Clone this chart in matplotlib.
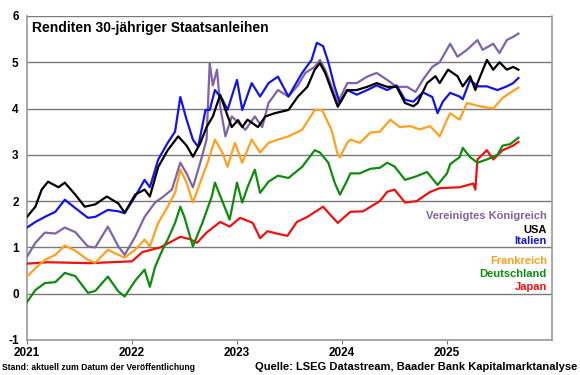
import matplotlib
matplotlib.use("Agg")
import matplotlib.pyplot as plt

plt.rcParams['font.family'] = ['Liberation Sans', 'DejaVu Sans']

# ---- data (decimal years, yield in %) ----
uk_x = [2021.00, 2021.08, 2021.17, 2021.27, 2021.36, 2021.46, 2021.58, 2021.65, 2021.77, 2021.87, 2021.93,
        2022.03, 2022.12, 2022.22, 2022.30, 2022.38, 2022.46, 2022.52, 2022.58, 2022.65, 2022.71, 2022.74,
        2022.77, 2022.81, 2022.84, 2022.89, 2022.95, 2023.01, 2023.08, 2023.17, 2023.24, 2023.30, 2023.39,
        2023.49, 2023.58, 2023.65, 2023.74, 2023.79, 2023.84, 2023.90, 2023.96, 2024.05, 2024.14, 2024.24,
        2024.33, 2024.43, 2024.52, 2024.62, 2024.70, 2024.77, 2024.86, 2024.93, 2024.96, 2025.03, 2025.10,
        2025.19, 2025.29, 2025.34, 2025.44, 2025.50, 2025.57, 2025.63, 2025.68]
uk_y = [0.80, 1.10, 1.32, 1.30, 1.43, 1.33, 1.02, 1.00, 1.45, 1.02, 0.84,
        1.23, 1.66, 1.97, 2.10, 2.25, 2.83, 2.60, 2.30, 2.83, 3.33, 4.98,
        4.50, 4.84, 4.04, 3.40, 3.83, 3.70, 3.54, 3.83, 3.60, 4.12, 4.40,
        4.26, 4.50, 4.77, 4.90, 5.05, 4.84, 4.48, 4.12, 4.55, 4.55, 4.69,
        4.77, 4.62, 4.47, 4.47, 4.36, 4.62, 4.90, 5.00, 5.12, 5.40, 5.12,
        5.27, 5.48, 5.27, 5.40, 5.20, 5.48, 5.55, 5.62]

usa_x = [2021.00, 2021.08, 2021.14, 2021.20, 2021.30, 2021.36, 2021.46, 2021.55, 2021.65, 2021.76, 2021.87,
         2021.93, 2022.03, 2022.12, 2022.17, 2022.25, 2022.34, 2022.44, 2022.52, 2022.58, 2022.65, 2022.71,
         2022.77, 2022.84, 2022.89, 2022.95, 2023.01, 2023.05, 2023.10, 2023.20, 2023.27, 2023.36, 2023.49,
         2023.58, 2023.67, 2023.74, 2023.79, 2023.84, 2023.90, 2023.96, 2024.05, 2024.14, 2024.24, 2024.33,
         2024.43, 2024.52, 2024.60, 2024.68, 2024.72, 2024.81, 2024.89, 2024.93, 2025.01, 2025.10, 2025.15,
         2025.22, 2025.27, 2025.29, 2025.38, 2025.44, 2025.50, 2025.57, 2025.63, 2025.68]
usa_y = [1.66, 1.88, 2.25, 2.42, 2.30, 2.40, 2.14, 1.88, 1.93, 2.10, 1.95,
         1.75, 2.14, 2.25, 2.10, 2.74, 3.10, 3.40, 3.20, 2.96, 3.25, 3.60,
         3.83, 4.30, 3.97, 3.60, 3.75, 3.60, 3.76, 3.60, 3.83, 3.90, 3.97,
         4.26, 4.47, 4.84, 4.98, 4.77, 4.40, 4.04, 4.40, 4.40, 4.47, 4.55,
         4.47, 4.47, 4.12, 4.05, 4.12, 4.55, 4.70, 4.55, 4.84, 4.70, 4.48,
         4.70, 4.40, 4.55, 5.05, 4.84, 5.00, 4.84, 4.90, 4.84]

ita_x = [2021.00, 2021.08, 2021.17, 2021.27, 2021.36, 2021.46, 2021.58, 2021.65, 2021.77, 2021.87, 2021.93,
         2022.03, 2022.12, 2022.17, 2022.25, 2022.34, 2022.41, 2022.46, 2022.52, 2022.58, 2022.63, 2022.70,
         2022.74, 2022.79, 2022.86, 2022.91, 2023.00, 2023.05, 2023.14, 2023.22, 2023.30, 2023.39, 2023.49,
         2023.62, 2023.71, 2023.76, 2023.82, 2023.87, 2023.93, 2023.98, 2024.05, 2024.14, 2024.24, 2024.33,
         2024.43, 2024.52, 2024.60, 2024.68, 2024.77, 2024.86, 2024.91, 2024.96, 2025.03, 2025.12, 2025.15,
         2025.22, 2025.29, 2025.38, 2025.48, 2025.57, 2025.63, 2025.68]
ita_y = [1.43, 1.55, 1.66, 1.77, 2.03, 1.85, 1.64, 1.66, 1.81, 1.78, 1.74,
         2.10, 2.46, 2.30, 2.90, 3.26, 3.50, 4.25, 3.76, 3.33, 3.17, 3.97,
         3.97, 4.40, 4.20, 3.97, 4.62, 3.97, 4.55, 4.26, 4.55, 4.69, 4.26,
         4.77, 5.05, 5.42, 5.35, 5.00, 4.47, 4.12, 4.40, 4.30, 4.40, 4.50,
         4.40, 4.50, 4.19, 4.15, 4.35, 4.25, 3.90, 4.15, 4.34, 4.26, 4.20,
         4.62, 4.48, 4.48, 4.40, 4.48, 4.55, 4.66]

fra_x = [2021.00, 2021.08, 2021.17, 2021.27, 2021.36, 2021.46, 2021.58, 2021.65, 2021.77, 2021.87, 2021.93,
         2022.03, 2022.12, 2022.17, 2022.25, 2022.34, 2022.41, 2022.46, 2022.52, 2022.58, 2022.67, 2022.72,
         2022.79, 2022.86, 2022.91, 2022.98, 2023.05, 2023.14, 2023.22, 2023.30, 2023.39, 2023.49, 2023.62,
         2023.74, 2023.81, 2023.90, 2023.96, 2023.98, 2024.05, 2024.08, 2024.17, 2024.27, 2024.36, 2024.46,
         2024.55, 2024.65, 2024.74, 2024.84, 2024.93, 2025.00, 2025.03, 2025.12, 2025.19, 2025.31, 2025.44,
         2025.53, 2025.60, 2025.68]
fra_y = [0.37, 0.55, 0.73, 0.84, 1.04, 0.93, 0.73, 0.67, 0.95, 0.84, 0.78,
         0.95, 1.17, 1.02, 1.53, 1.88, 2.18, 2.68, 2.40, 1.97, 2.53, 2.83,
         3.33, 3.05, 2.74, 3.26, 2.83, 3.33, 3.05, 3.26, 3.33, 3.40, 3.54,
         3.97, 3.97, 3.54, 3.00, 2.95, 3.26, 3.33, 3.26, 3.48, 3.50, 3.76,
         3.60, 3.62, 3.55, 3.62, 3.40, 3.76, 3.90, 3.76, 4.12, 4.05, 4.00,
         4.23, 4.34, 4.45]

ger_x = [2021.00, 2021.08, 2021.17, 2021.27, 2021.36, 2021.46, 2021.58, 2021.65, 2021.77, 2021.87, 2021.93,
         2022.03, 2022.12, 2022.17, 2022.22, 2022.29, 2022.34, 2022.41, 2022.46, 2022.50, 2022.58, 2022.67,
         2022.76, 2022.79, 2022.86, 2022.93, 2023.00, 2023.05, 2023.10, 2023.17, 2023.22, 2023.30, 2023.39,
         2023.49, 2023.62, 2023.74, 2023.79, 2023.87, 2023.93, 2023.98, 2024.05, 2024.08, 2024.17, 2024.27,
         2024.36, 2024.43, 2024.50, 2024.60, 2024.70, 2024.81, 2024.91, 2025.00, 2025.03, 2025.12, 2025.15,
         2025.22, 2025.29, 2025.38, 2025.48, 2025.53, 2025.60, 2025.68]
ger_y = [-0.18, 0.08, 0.23, 0.25, 0.45, 0.38, 0.02, 0.06, 0.37, 0.05, -0.06,
         0.28, 0.52, 0.15, 0.58, 0.95, 1.17, 1.53, 1.88, 1.65, 1.02, 1.53,
         2.10, 2.40, 2.00, 1.60, 2.40, 1.97, 2.30, 2.68, 2.18, 2.42, 2.55,
         2.50, 2.74, 3.10, 3.05, 2.83, 2.40, 2.14, 2.45, 2.60, 2.60, 2.70,
         2.72, 2.83, 2.75, 2.46, 2.53, 2.63, 2.35, 2.60, 2.80, 2.95, 3.15,
         2.95, 2.83, 2.90, 3.00, 3.20, 3.23, 3.37]

jpn_x = [2021.00, 2021.20, 2021.40, 2021.60, 2021.80, 2022.00, 2022.10, 2022.27, 2022.46, 2022.55, 2022.62,
         2022.71, 2022.84, 2022.93, 2023.03, 2023.15, 2023.22, 2023.29, 2023.38, 2023.48, 2023.57, 2023.67,
         2023.82, 2023.89, 2023.96, 2024.08, 2024.20, 2024.36, 2024.43, 2024.50, 2024.60, 2024.71, 2024.84,
         2024.93, 2025.12, 2025.25, 2025.27, 2025.29, 2025.38, 2025.44, 2025.53, 2025.63, 2025.68]
jpn_y = [0.65, 0.68, 0.67, 0.66, 0.68, 0.70, 0.90, 1.00, 1.23, 1.18, 1.10,
         1.32, 1.55, 1.45, 1.64, 1.53, 1.20, 1.35, 1.30, 1.25, 1.55, 1.66,
         1.88, 1.70, 1.53, 1.77, 1.78, 2.00, 2.20, 2.25, 1.97, 2.00, 2.20,
         2.28, 2.30, 2.38, 2.25, 2.90, 3.10, 2.90, 3.10, 3.20, 3.28]

series_names = ["Vereinigtes Königreich", "USA", "Italien", "Frankreich", "Deutschland", "Japan"]
series_colors = ["#7F64A8", "#000000", "#1515E0", "#FFA020", "#108A10", "#F01010"]
series_x = [uk_x, usa_x, ita_x, fra_x, ger_x, jpn_x]
series_y = [uk_y, usa_y, ita_y, fra_y, ger_y, jpn_y]

year_ticks = [2021, 2022, 2023, 2024, 2025]
y_ticks = [-1, 0, 1, 2, 3, 4, 5, 6]

fig = plt.figure(figsize=(5.8, 3.75), dpi=100)
ax = fig.add_axes([27/580, 35/375, (552-27)/580, (340-16)/375])

for v in y_ticks:
    ax.axhline(v, color="#7A7A7A", lw=1.0, zorder=1)

draw_order = [5, 4, 3, 0, 2, 1]
for i in draw_order:
    ax.plot(series_x[i], series_y[i], color=series_colors[i], lw=1.6, zorder=3)

ax.set_xlim(2021, 2026)
ax.set_ylim(-1, 6)
ax.set_xticks(year_ticks)
ax.set_xticklabels([str(t) for t in year_ticks], fontsize=8.5, fontweight="bold")
ax.set_yticks(y_ticks)
ax.set_yticklabels([str(t) for t in y_ticks], fontsize=8.5, fontweight="bold")
ax.tick_params(axis="y", length=0, pad=6)
ax.tick_params(axis="x", length=3, direction="out", color="#7A7A7A", pad=2)
for s in ["left", "right", "bottom"]:
    ax.spines[s].set_color("#9A9A9A")
    ax.spines[s].set_linewidth(1.2)
ax.spines["top"].set_visible(False)

ax.text(0.01, 0.963, "Renditen 30-jähriger Staatsanleihen", transform=ax.transAxes,
        fontsize=10, fontweight="bold", va="center", ha="left")

label_y = [216, 230, 241, 261, 274, 287]
for name, col, py in zip(series_names, series_colors, label_y):
    fig.text(547/580, 1 - py/375, name, color=col, fontsize=8, fontweight="bold",
             ha="right", va="center")

fig.text(2/580, 1 - 367/375, "Stand: aktuell zum Datum der Veröffentlichung",
         fontsize=6.2, fontweight="bold", ha="left", va="center")
fig.text(577/580, 1 - 367/375, "Quelle: LSEG Datastream, Baader Bank Kapitalmarktanalyse",
         fontsize=8, fontweight="bold", ha="right", va="center")

fig.savefig("out.png", dpi=100)
